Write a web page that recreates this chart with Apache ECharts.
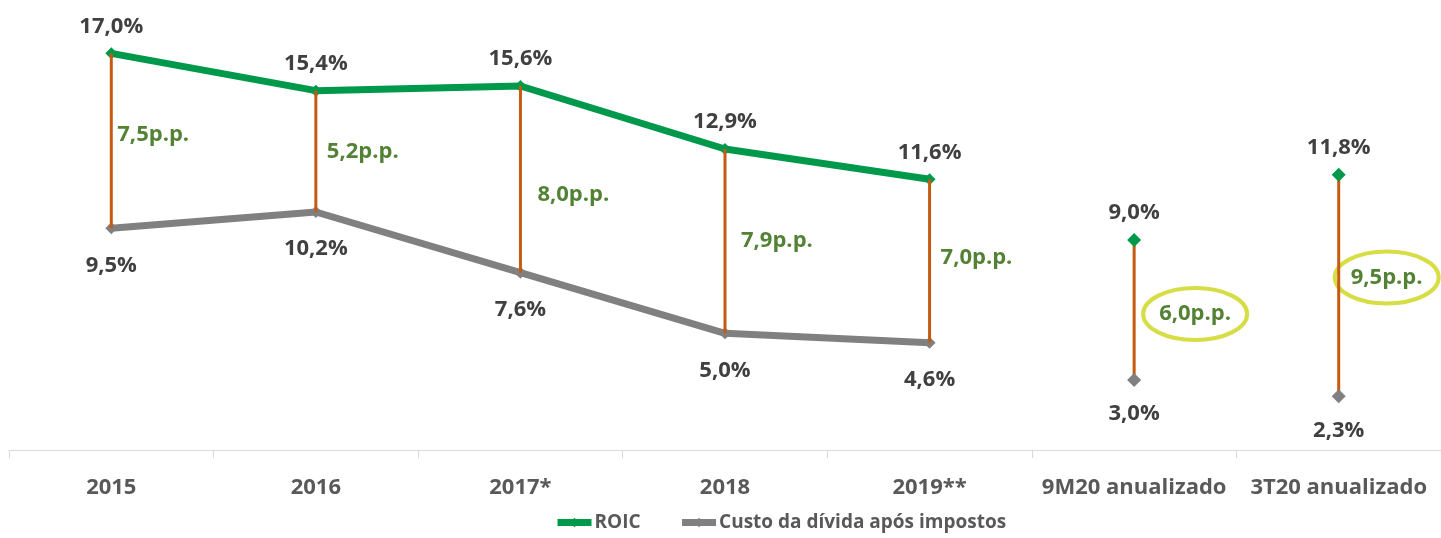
<!DOCTYPE html>
<html>
<head>
<meta charset="utf-8">
<script src="https://cdn.jsdelivr.net/npm/echarts@6/dist/echarts.min.js"></script>
<style>
  html, body { margin: 0; padding: 0; background: #fff; }
  #chart { width: 1441px; height: 538px; }
</style>
</head>
<body>
<div id="chart"></div>
<script>
var categories = ['2015', '2016', '2017*', '2018', '2019**', '9M20 anualizado', '3T20 anualizado'];
var roic = [17.0, 15.4, 15.6, 12.9, 11.6, 9.0, 11.8];
var custoDivida = [9.5, 10.2, 7.6, 5.0, 4.6, 3.0, 2.3];
var spreadPP = [7.5, 5.2, 8.0, 7.9, 7.0, 6.0, 9.5];
var nLinked = 5; // os 5 primeiros anos ficam ligados por linha

var myChart = echarts.init(document.getElementById('chart'));

var FONT = 'Open Sans';
// deslocamento do rotulo p.p. em relacao a linha (px)
var ppShift = [[6, -6], [11, 0], [17, 15], [16, 0], [11, -3], [25, 4], [12, -8]];

function fmt(v) { return v.toFixed(1).replace('.', ',') + '%'; }

function splitData(arr, linked) {
    return arr.map(function (v, i) {
        return (linked ? i < nLinked : i >= nLinked) ? v : '-';
    });
}

var spreadData = categories.map(function (c, i) {
    return [i, roic[i], custoDivida[i], spreadPP[i]];
});

function valLabel(pos, dist) {
    return {
        show: true, position: pos, distance: dist,
        color: '#404040', fontFamily: FONT, fontWeight: 'bold', fontSize: 22,
        formatter: function (p) { return fmt(p.value); }
    };
}

var option = {
    animation: false,
    grid: { left: 9, right: 0, top: 30, bottom: 88 },
    legend: {
        top: 513,
        left: 554,
        padding: 0,
        itemWidth: 34,
        itemHeight: 12,
        itemGap: 38,
        data: ['ROIC', 'Custo da dívida após impostos'],
        lineStyle: { width: 7 },
        textStyle: { color: '#595959', fontFamily: FONT, fontWeight: 'bold', fontSize: 19, padding: [0, 0, 0, -2] }
    },
    xAxis: {
        type: 'category',
        data: categories,
        boundaryGap: true,
        axisLine: { lineStyle: { color: '#D9D9D9', width: 1 } },
        axisTick: { show: true, interval: 0, length: 8, lineStyle: { color: '#D9D9D9' } },
        axisLabel: { interval: 0, color: '#595959', fontFamily: FONT, fontWeight: 'bold', fontSize: 22, margin: 27 }
    },
    yAxis: {
        type: 'value', min: 0, max: 18, show: false,
        splitLine: { show: false }
    },
    series: [
        {
            name: 'ROIC', type: 'line',
            data: splitData(roic, true),
            symbol: 'diamond', symbolSize: 12,
            lineStyle: { color: '#00994C', width: 7 },
            itemStyle: { color: '#00994C' },
            label: valLabel('top', 10), z: 3
        },
        {
            name: 'Custo da dívida após impostos', type: 'line',
            data: splitData(custoDivida, true),
            symbol: 'diamond', symbolSize: 12,
            lineStyle: { color: '#808080', width: 7 },
            itemStyle: { color: '#808080' },
            label: valLabel('bottom', 20), z: 3
        },
        {
            name: 'ROIC', type: 'scatter',
            data: splitData(roic, false),
            symbol: 'diamond', symbolSize: 14,
            itemStyle: { color: '#00994C', opacity: 1 },
            label: valLabel('top', 9), z: 5
        },
        {
            name: 'Custo da dívida após impostos', type: 'scatter',
            data: splitData(custoDivida, false),
            symbol: 'diamond', symbolSize: 14,
            itemStyle: { color: '#808080', opacity: 1 },
            label: valLabel('bottom', 16), z: 5
        },
        {
            type: 'custom',
            data: spreadData,
            encode: { x: 0, y: [1, 2] },
            z: 4,
            renderItem: function (params, api) {
                var i = api.value(0);
                var top = api.coord([i, api.value(1)]);
                var bot = api.coord([i, api.value(2)]);
                var sh = ppShift[i];
                var tx = top[0] + sh[0];
                var ty = (top[1] + bot[1]) / 2 + sh[1];
                var txt = api.value(3).toFixed(1).replace('.', ',') + 'p.p.';
                var children = [
                    {
                        type: 'line',
                        shape: { x1: top[0], y1: top[1], x2: bot[0], y2: bot[1] },
                        style: { stroke: '#C55A11', lineWidth: 3 }
                    },
                    {
                        type: 'text',
                        style: {
                            x: tx, y: ty, text: txt,
                            fill: '#548235', font: 'bold 22px "Open Sans"',
                            textAlign: 'left', textVerticalAlign: 'middle'
                        }
                    }
                ];
                if (i >= nLinked) {
                    children.unshift({
                        type: 'ellipse',
                        shape: { cx: tx + 36, cy: ty, rx: 52, ry: 26 },
                        style: { fill: 'none', stroke: '#D6DD45', lineWidth: 4 }
                    });
                }
                return { type: 'group', children: children };
            }
        }
    ]
};

myChart.setOption(option);
</script>
</body>
</html>
